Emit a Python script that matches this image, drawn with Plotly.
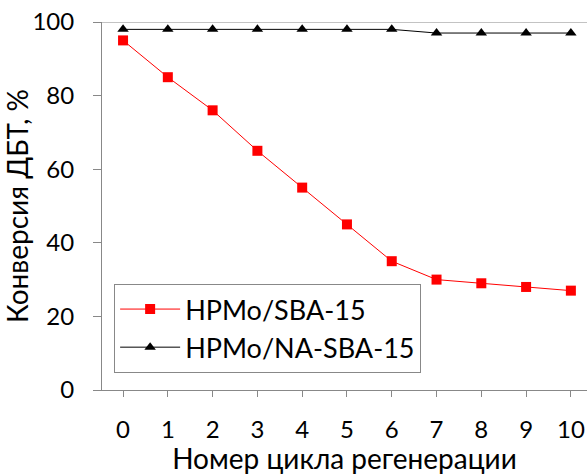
import plotly.graph_objects as go

cycles = [0, 1, 2, 3, 4, 5, 6, 7, 8, 9, 10]
sba15 = [95, 85, 76, 65, 55, 45, 35, 30, 29, 28, 27]
na_sba15 = [98, 98, 98, 98, 98, 98, 98, 97, 97, 97, 97]
y_ticks = [0, 20, 40, 60, 80, 100]

FONT = "Lato, Open Sans, sans-serif"

fig = go.Figure()
fig.add_trace(go.Scatter(
    x=cycles, y=sba15, mode="lines+markers", name="HPMo/SBA-15",
    legendgroup="a",
    line=dict(color="#ff0000", width=1),
    marker=dict(symbol="square", size=10, color="#ff0000"),
))
fig.add_trace(go.Scatter(
    x=cycles, y=na_sba15, mode="lines+markers", name="HPMo/NA-SBA-15",
    legendgroup="b",
    line=dict(color="#000000", width=1),
    marker=dict(symbol="triangle-up", size=10, color="#000000"),
))

fig.update_layout(
    width=587, height=475,
    margin=dict(l=102, r=0, t=22, b=85),
    paper_bgcolor="white", plot_bgcolor="white",
    font=dict(family=FONT, size=24, color="#000000"),
    showlegend=True,
    legend=dict(
        x=0.025, y=0.288, xanchor="left", yanchor="top",
        bgcolor="white", bordercolor="#888888", borderwidth=1,
        font=dict(size=27, family=FONT),
        itemwidth=60, tracegroupgap=16, traceorder="normal",
    ),
)
fig.update_xaxes(
    range=[-0.47, 10.36], tickmode="array", tickvals=cycles,
    ticks="outside", ticklen=6, tickcolor="#888888",
    showline=True, linecolor="#888888", linewidth=1,
    showgrid=False, zeroline=False,
    tickfont=dict(size=24), ticklabelstandoff=12,
    title=dict(text="Номер цикла регенерации", font=dict(size=28), standoff=6),
)
fig.update_yaxes(
    range=[0, 100], tickmode="array", tickvals=y_ticks,
    ticks="outside", ticklen=8, tickcolor="#888888",
    showline=True, linecolor="#888888", linewidth=1,
    showgrid=False, zeroline=False,
    tickfont=dict(size=24), ticklabelstandoff=14,
    title=dict(text="Конверсия ДБТ, %", font=dict(size=28), standoff=4),
)
fig.add_shape(type="line", xref="paper", yref="y", x0=0, x1=1, y0=100, y1=100,
              line=dict(color="#888888", width=1))

fig.write_html("out.html")
